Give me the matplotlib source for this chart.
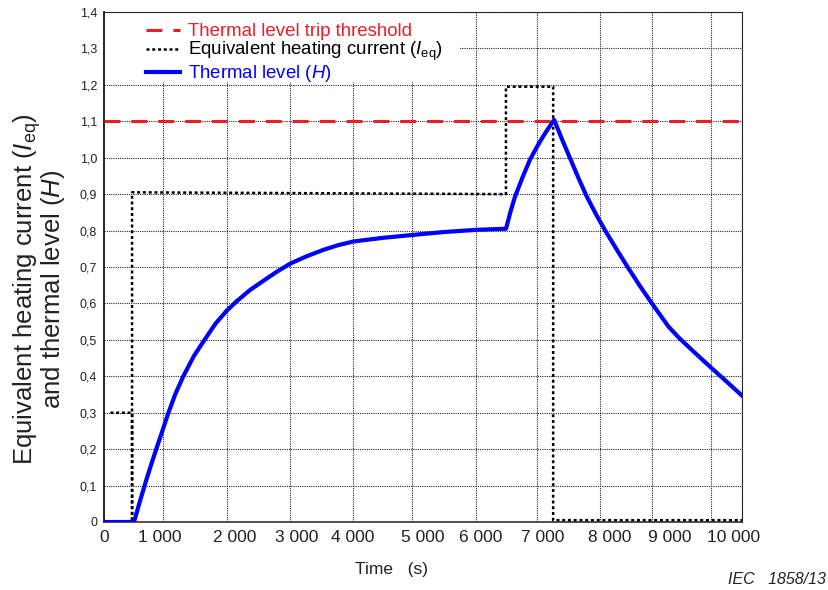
import matplotlib
matplotlib.use("Agg")
import matplotlib.pyplot as plt
from matplotlib.patches import Rectangle

plt.rcParams['font.family'] = ['Liberation Sans', 'DejaVu Sans']
plt.rcParams['mathtext.fontset'] = 'custom'
plt.rcParams['mathtext.rm'] = 'Liberation Sans'
plt.rcParams['mathtext.it'] = 'Liberation Sans:italic'

# equivalent heating current (step curve)
ieq_t = [100, 440, 440, 440, 6300, 6300, 7040, 7040, 10000]
ieq_v = [0.30, 0.30, 0.0, 0.905, 0.90, 1.195, 1.195, 0.005, 0.005]

# thermal level H
h_t = [0, 470, 560, 650, 740, 830, 915, 1000, 1120, 1243, 1410, 1583, 1750,
       1923, 2080, 2290, 2497, 2700, 2915, 3170, 3437, 3670, 3908, 4370,
       4838, 5330, 5831, 6301, 6370, 6442, 6560, 6677, 6780, 6881, 6970,
       7055, 7180, 7304, 7435, 7565, 7720, 7879, 8050, 8218, 8400, 8584,
       8845, 9010, 9185, 9370, 9551, 9780, 10000]
h_v = [0, 0, 0.055, 0.108, 0.158, 0.206, 0.250, 0.295, 0.352, 0.400, 0.456,
       0.502, 0.545, 0.580, 0.606, 0.637, 0.662, 0.686, 0.709, 0.729, 0.747,
       0.760, 0.770, 0.780, 0.788, 0.796, 0.802, 0.805, 0.851, 0.893, 0.946,
       0.995, 1.028, 1.058, 1.082, 1.104, 1.050, 0.999, 0.945, 0.894, 0.842,
       0.793, 0.744, 0.697, 0.648, 0.601, 0.537, 0.506, 0.477, 0.447, 0.418,
       0.382, 0.347]

trip_level = 1.1

# x labels sit where the original put them, grid lines where it drew them
x_label_pos = [0, 880, 2050, 3025, 3900, 5000, 5910, 6880, 7930, 8860, 9860]
x_labels = ['0', '1 000', '2 000', '3 000', '4 000', '5 000', '6 000',
            '7 000', '8 000', '9 000', '10 000']
x_grid = [925, 1930, 2915, 3905, 4830, 5830, 6790, 7775, 8590, 9515, 10000]
y_ticks = [0, 0.1, 0.2, 0.3, 0.4, 0.5, 0.6, 0.7, 0.8, 0.9, 1.0, 1.1, 1.2, 1.3, 1.4]
y_labels = ['0'] + [f'{v:.1f}'.replace('.', ',') for v in y_ticks[1:]]

fig = plt.figure(figsize=(8.29, 5.90), dpi=100)
ax = fig.add_axes([104 / 829, 1 - 522 / 590, 638 / 829, 510 / 590])

grid_kw = dict(color='0.15', linestyle=(0, (1, 1)), linewidth=0.8)
ax.set_xticks(x_label_pos, x_labels, fontsize=12.5, color='#222222')
ax.set_xticks(x_grid, minor=True)
ax.set_yticks(y_ticks, y_labels, fontsize=9, color='#222222')
ax.tick_params(which='both', length=0)
ax.tick_params(axis='x', pad=6)
ax.tick_params(axis='y', pad=5)
ax.grid(which='minor', axis='x', **grid_kw)
ax.grid(which='major', axis='y', **grid_kw)
ax.set_axisbelow(True)

ax.plot([0, 10000], [trip_level, trip_level], color='#ee1c25', linewidth=2.2,
        linestyle=(0, (5.2, 3.6)), label='Thermal level trip threshold', zorder=3)
ax.plot(ieq_t, ieq_v, color='black', linewidth=1.8, linestyle=(0, (1.2, 1.1)),
        label=r'Equivalent heating current ($I_{\rm eq}$)', zorder=4)
ax.plot(h_t, h_v, color='#0000ff', linewidth=3,
        label=r'Thermal level ($H$)', zorder=5)

ax.set_xlim(0, 10000)
ax.set_ylim(0, 1.4)

for side in ['top', 'right']:
    ax.spines[side].set_linestyle((0, (1, 1)))
    ax.spines[side].set_linewidth(0.8)
    ax.spines[side].set_color('0.15')
ax.spines['left'].set_linewidth(1.2)
ax.spines['bottom'].set_linewidth(1.2)
ax.spines['bottom'].set_color('#333333')

# white area behind the legend hides the grid there
ax.add_patch(Rectangle((0, 0.862), 0.558, 0.138, transform=ax.transAxes,
                       facecolor='white', edgecolor='none', zorder=1.5))
leg = ax.legend(loc='upper left', bbox_to_anchor=(0.066, 0.978), fontsize=13.4,
                frameon=False, handlelength=1.8, handletextpad=0.45,
                labelspacing=0.0, borderpad=0.0, borderaxespad=0.0,
                labelcolor='linecolor')

ax.set_xlabel('Time   (s)', fontsize=12.5, color='#222222')
ax.xaxis.set_label_coords(0.451, -0.078)
ax.set_ylabel('Equivalent heating current ($I_{\\rm eq}$)\nand thermal level ($H$)',
              fontsize=18.5, color='#222222', linespacing=0.8)
ax.yaxis.set_label_coords(-0.058, 0.457)

fig.text(826 / 829, 1 - 579 / 590, 'IEC   1858/13', ha='right', va='center',
         fontsize=11.5, style='italic', color='#222222')

fig.savefig('out.png', dpi=100)
